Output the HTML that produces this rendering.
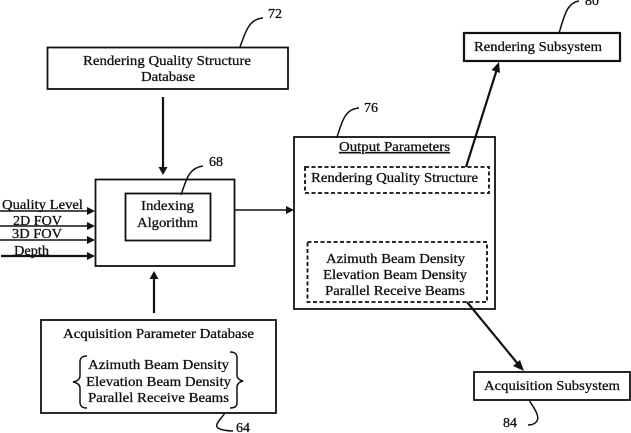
<!DOCTYPE html>
<html>
<head>
<meta charset="utf-8">
<style>
html,body{margin:0;padding:0;background:#fff;width:631px;height:433px;overflow:hidden}
svg{display:block}
text{font-family:"Liberation Serif",serif;font-size:14px;fill:#111;stroke:#111;stroke-width:.3}
.b{fill:none;stroke:#111;stroke-width:1.8}
.t{fill:none;stroke:#111;stroke-width:2.2}
.m{fill:none;stroke:#111;stroke-width:1.5}
.d{fill:none;stroke:#111;stroke-width:1.8;stroke-dasharray:4 2.5}
.l{fill:none;stroke:#111;stroke-width:1.5}
.h{fill:#111;stroke:none}
</style>
</head>
<body>
<svg width="631" height="433" viewBox="0 0 631 433" xmlns="http://www.w3.org/2000/svg">
<!-- boxes -->
<rect class="b" x="47.5" y="47.5" width="240.500" height="41.500"/>
<rect class="b" x="95.5" y="179.5" width="139" height="86.500"/>
<rect class="b" x="125.5" y="193.5" width="85" height="47"/>
<rect class="b" x="294" y="137" width="201" height="172"/>
<rect class="d" x="305" y="167" width="184" height="26"/>
<rect class="d" x="307.5" y="242" width="179.500" height="60"/>
<rect class="t" x="464" y="33" width="156" height="28"/>
<rect class="b" x="474" y="372" width="156" height="28"/>
<rect class="b" x="41" y="320" width="235" height="93"/>
<!-- connectors -->
<path class="t" d="M163 97V170"/>
<path class="h" d="M158.500 167h9l-4.500 8z"/>
<path class="m" d="M234.500 210H288"/>
<path class="h" d="M286 206l8 4l-8 4z"/>
<path class="t" d="M154 313V277"/>
<path class="h" d="M149.500 279h9l-4.500-8z"/>
<path class="m" d="M0 211H89M0 226H89M0 240H89"/>
<path class="t" d="M1 256H89"/>
<path class="h" d="M87 207l8 4l-8 4zM87 222l8 4l-8 4zM87 236l8 4l-8 4zM87 252l8 4l-8 4z"/>
<path class="t" d="M466 167L497 69"/>
<path class="h" d="M499 62L500 73L491.500 70z"/>
<path class="t" d="M467 302L518 364"/>
<path class="h" d="M524 371L513 366L520 360z"/>
<!-- leaders -->
<path class="l" d="M240 47C245 34 248 19 263 18"/>
<path class="l" d="M181 195C186 181 188 168 203 166"/>
<path class="l" d="M337 137C342 123 344 109 359 108"/>
<path class="l" d="M559 33C564 18 566 3 579 1"/>
<path class="l" d="M529 400C534 408 540 416 537 421C535 424 532 425 528 425"/>
<path class="l" d="M225 413C220 420 214 425 218 428C221 430 228 431 233 431"/>
<!-- braces -->
<path class="l" d="M87 356C82 356 80 358 80 362V376C80 379 78 381 73 382C78 383 80 385 80 388V402C80 406 82 408 87 408"/>
<path class="l" d="M230 352C235 352 237 354 237 358V375C237 378 239 380 243 381C239 382 237 384 237 387V403C237 406 235 408 230 408"/>
<!-- text -->
<text x="83" y="65" textLength="168" lengthAdjust="spacingAndGlyphs">Rendering Quality Structure</text>
<text x="141" y="81" textLength="54" lengthAdjust="spacingAndGlyphs">Database</text>
<text x="2" y="209" textLength="81" lengthAdjust="spacingAndGlyphs">Quality Level</text>
<text x="13" y="225" textLength="49" lengthAdjust="spacingAndGlyphs">2D FOV</text>
<text x="12" y="238" textLength="50" lengthAdjust="spacingAndGlyphs">3D FOV</text>
<text x="14" y="255" textLength="35" lengthAdjust="spacingAndGlyphs">Depth</text>
<text x="141" y="210" textLength="53" lengthAdjust="spacingAndGlyphs">Indexing</text>
<text x="137" y="227" textLength="61" lengthAdjust="spacingAndGlyphs">Algorithm</text>
<text x="63" y="338" textLength="191" lengthAdjust="spacingAndGlyphs">Acquisition Parameter Database</text>
<text x="88" y="369" textLength="141" lengthAdjust="spacingAndGlyphs">Azimuth Beam Density</text>
<text x="86" y="386" textLength="145" lengthAdjust="spacingAndGlyphs">Elevation Beam Density</text>
<text x="88" y="402" textLength="141" lengthAdjust="spacingAndGlyphs">Parallel Receive Beams</text>
<text x="339" y="151" textLength="111" lengthAdjust="spacingAndGlyphs" text-decoration="underline">Output Parameters</text>
<text x="311" y="182" textLength="167" lengthAdjust="spacingAndGlyphs">Rendering Quality Structure</text>
<text x="326" y="263" textLength="139" lengthAdjust="spacingAndGlyphs">Azimuth Beam Density</text>
<text x="323" y="279" textLength="144" lengthAdjust="spacingAndGlyphs">Elevation Beam Density</text>
<text x="325" y="295" textLength="140" lengthAdjust="spacingAndGlyphs">Parallel Receive Beams</text>
<text x="474" y="51" textLength="128" lengthAdjust="spacingAndGlyphs">Rendering Subsystem</text>
<text x="484" y="390" textLength="136" lengthAdjust="spacingAndGlyphs">Acquisition Subsystem</text>
<text x="268" y="18">72</text>
<text x="209" y="166">68</text>
<text x="364" y="112">76</text>
<text x="585" y="5">80</text>
<text x="236" y="432">64</text>
<text x="503" y="427">84</text>
</svg>
</body>
</html>
